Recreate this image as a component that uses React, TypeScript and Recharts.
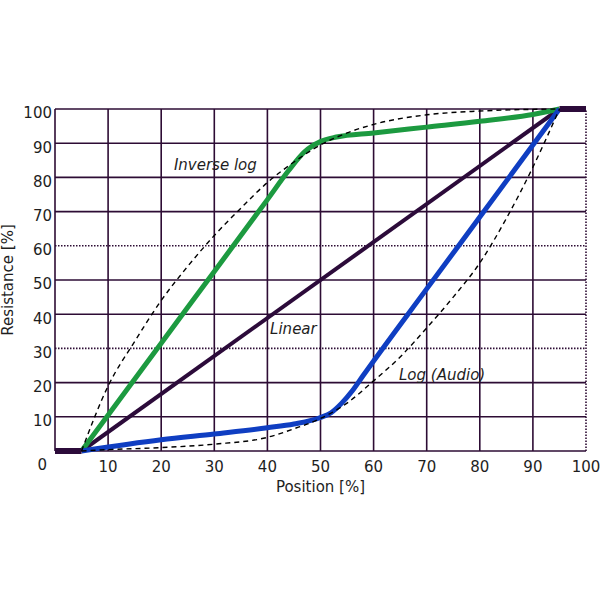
import React from 'react';
import { LineChart, Line, XAxis, YAxis, ReferenceLine, ReferenceDot } from 'recharts';

// axis ticks
const positionTicks = [10, 20, 30, 40, 50, 60, 70, 80, 90, 100];
const resistanceTicks = [0, 10, 20, 30, 40, 50, 60, 70, 80, 90, 100];
const gridX = [0, 10, 20, 30, 40, 50, 60, 70, 80, 90, 100];
const gridY = [0, 10, 20, 30, 40, 50, 60, 70, 80, 90, 100];
const dottedGrid = [30, 60];

// solid taper curves (position % -> resistance %)
const inverseLogPos = [5, 20, 30, 40, 44, 47, 50, 53, 60, 70, 80, 90, 95];
const inverseLogRes = [0, 31.5, 52.5, 73.5, 82, 87.5, 90.5, 91.8, 93, 94.7, 96.4, 98.4, 100];

const linearPos = [5, 95];
const linearRes = [0, 100];

const logPos = [5, 20, 30, 40, 45, 50, 52, 54, 56, 58, 70, 80, 95];
const logRes = [0, 3.3, 5, 6.8, 7.9, 9.8, 11.2, 14, 17.6, 22, 47.4, 68.4, 100];

// end stops
const startStopPos = [0, 5];
const startStopRes = [0, 0];
const endStopPos = [95, 100];
const endStopRes = [100, 100];

// ideal (dashed) curves
const idealInvPos = [5, 10, 15, 20, 25, 30, 35, 40, 45, 50, 55, 60, 70, 80, 95];
const idealInvRes = [0, 19, 32, 44, 54, 63, 71, 78.5, 84.5, 89.5, 93, 95.5, 98.3, 99.4, 100];
const idealLogPos = [5, 10, 20, 30, 40, 45, 50, 55, 60, 65, 70, 75, 80, 85, 90, 95];
const idealLogRes = [0, 0.4, 1, 2, 4, 6.5, 9.5, 14, 20.5, 27.5, 36, 45, 55, 68, 83, 100];

const toPoints = (xs: number[], ys: number[]) => xs.map((x, i) => ({ x, y: ys[i] }));

const GRID = '#2d0c34';
const TEXT = '#1e1e1e';
const FONT = 'DejaVu Sans, Verdana, sans-serif';

const ResistanceTick = (props: any) => {
  const { x, y, payload } = props;
  const zero = payload.value === 0;
  return (
    <text
      x={zero ? x - 5 : x}
      y={y + (zero ? 14 : 4)}
      dy="0.355em"
      textAnchor="end"
      fill={TEXT}
      fontSize={15}
      fontFamily={FONT}
    >
      {payload.value}
    </text>
  );
};

const curveLabel = (value: string) => ({
  value,
  position: 'center' as const,
  fill: TEXT,
  fontSize: 15,
  fontStyle: 'italic',
  fontFamily: FONT,
});

const App: React.FC = () => {
  return (
    <div style={{ position: 'absolute', left: 0, top: 0, background: '#fff' }}>
      <LineChart width={600} height={600} margin={{ top: 109, right: 14, bottom: 104, left: 0 }}>
        <XAxis
          dataKey="x"
          type="number"
          domain={[0, 100]}
          ticks={positionTicks}
          axisLine={false}
          tickLine={false}
          tickSize={6}
          tickMargin={4}
          height={45}
          tick={{ fill: TEXT, fontSize: 15, fontFamily: FONT }}
          label={{ value: 'Position [%]', position: 'insideBottom', offset: 4, fill: TEXT, fontSize: 15, fontFamily: FONT }}
        />
        <YAxis
          type="number"
          domain={[0, 100]}
          ticks={resistanceTicks}
          axisLine={false}
          tickLine={false}
          tickSize={0}
          tickMargin={3}
          width={55}
          tick={<ResistanceTick />}
          label={{
            value: 'Resistance [%]',
            angle: -90,
            position: 'insideLeft',
            offset: 8,
            fill: TEXT,
            fontSize: 15,
            fontFamily: FONT,
            style: { textAnchor: 'middle' },
          }}
        />

        {gridY.map(v => (
          <ReferenceLine
            key={'gy' + v}
            y={v}
            stroke={GRID}
            strokeWidth={1.6}
            strokeDasharray={dottedGrid.includes(v) ? '1.5 1.5' : undefined}
          />
        ))}
        {gridX.map(v => (
          <ReferenceLine
            key={'gx' + v}
            x={v}
            stroke={GRID}
            strokeWidth={1.6}
            strokeDasharray={v === 100 ? '1.5 1.5' : undefined}
          />
        ))}

        <Line data={toPoints(linearPos, linearRes)} dataKey="y" type="linear" stroke="#2c0b3a" strokeWidth={4} dot={false} isAnimationActive={false} />
        <Line data={toPoints(inverseLogPos, inverseLogRes)} dataKey="y" type="monotone" stroke="#1c9a40" strokeWidth={5} dot={false} isAnimationActive={false} />
        <Line data={toPoints(logPos, logRes)} dataKey="y" type="monotone" stroke="#0f3ec2" strokeWidth={5} dot={false} isAnimationActive={false} />
        <Line data={toPoints(startStopPos, startStopRes)} dataKey="y" type="linear" stroke="#2c0b3a" strokeWidth={6} dot={false} isAnimationActive={false} />
        <Line data={toPoints(endStopPos, endStopRes)} dataKey="y" type="linear" stroke="#2c0b3a" strokeWidth={6} dot={false} isAnimationActive={false} />

        <Line data={toPoints(idealInvPos, idealInvRes)} dataKey="y" type="monotone" stroke="#000" strokeWidth={1.4} strokeDasharray="5 4" dot={false} isAnimationActive={false} />
        <Line data={toPoints(idealLogPos, idealLogRes)} dataKey="y" type="monotone" stroke="#000" strokeWidth={1.4} strokeDasharray="5 4" dot={false} isAnimationActive={false} />

        <ReferenceDot x={30.2} y={83.6} r={0} fill="none" stroke="none" label={curveLabel('Inverse log')} />
        <ReferenceDot x={44.9} y={35.7} r={0} fill="none" stroke="none" label={curveLabel('Linear')} />
        <ReferenceDot x={72.9} y={22.2} r={0} fill="none" stroke="none" label={curveLabel('Log (Audio)')} />
      </LineChart>
    </div>
  );
};

export default App;
